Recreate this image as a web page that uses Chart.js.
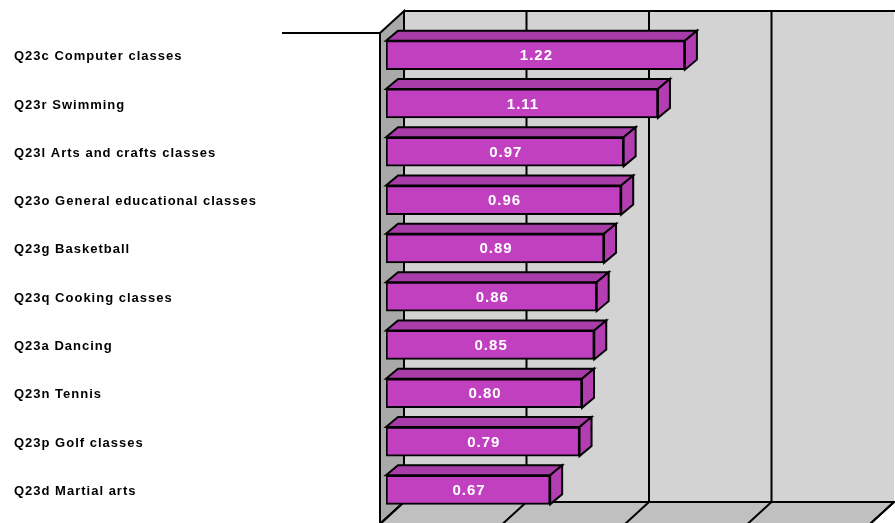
<!DOCTYPE html>
<html>
<head>
<meta charset="utf-8">
<script src="https://cdn.jsdelivr.net/npm/chart.js@4.4.1/dist/chart.umd.min.js"></script>
<style>
  html, body { margin: 0; padding: 0; background: #ffffff; }
  #wrap { width: 895px; height: 523px; position: relative; }
</style>
</head>
<body>
<div id="wrap"><canvas id="chart" width="895" height="523"></canvas></div>
<script>
// Activity categories and mean scores
const categories = [
  'Q23c Computer classes',
  'Q23r Swimming',
  'Q23l Arts and crafts classes',
  'Q23o General educational classes',
  'Q23g Basketball',
  'Q23q Cooking classes',
  'Q23a Dancing',
  'Q23n Tennis',
  'Q23p Golf classes',
  'Q23d Martial arts'
];
const scores = [1.22, 1.11, 0.97, 0.96, 0.89, 0.86, 0.85, 0.80, 0.79, 0.67];
const valueLabels = ['1.22', '1.11', '0.97', '0.96', '0.89', '0.86', '0.85', '0.80', '0.79', '0.67'];
const gridValues = [0, 0.5, 1, 1.5, 2];

// 3D box geometry (pixel offsets relative to the bar front-face plane)
const BAR_DEPTH = { dx: 12, dy: -10 };
const FRONT = { dx: -6, dy: 5 };
const BACK = { dx: 18, dy: -17 };
const WALL_PAD_TOP = 3, WALL_PAD_BOTTOM = 5;

function poly(ctx, pts, fill, stroke, lw) {
  ctx.beginPath();
  ctx.moveTo(pts[0][0], pts[0][1]);
  for (let i = 1; i < pts.length; i++) ctx.lineTo(pts[i][0], pts[i][1]);
  ctx.closePath();
  if (fill) { ctx.fillStyle = fill; ctx.fill(); }
  if (stroke) { ctx.strokeStyle = stroke; ctx.lineWidth = lw || 2; ctx.stroke(); }
}

const box3d = {
  id: 'box3d',
  beforeDatasetsDraw(chart) {
    const { ctx, chartArea, scales } = chart;
    const xs = scales.x;
    const x0 = xs.getPixelForValue(0), x2 = xs.getPixelForValue(2);
    const top = chartArea.top - WALL_PAD_TOP, bottom = chartArea.bottom + WALL_PAD_BOTTOM;
    const bT = top + BACK.dy, bB = bottom + BACK.dy;
    const fT = top + FRONT.dy, fB = bottom + FRONT.dy;
    ctx.save();
    ctx.lineJoin = 'miter';
    // back wall
    poly(ctx, [[x0 + BACK.dx, bT], [x2 + BACK.dx, bT], [x2 + BACK.dx, bB], [x0 + BACK.dx, bB]], '#d3d3d3');
    // side wall
    poly(ctx, [[x0 + FRONT.dx, fT], [x0 + BACK.dx, bT], [x0 + BACK.dx, bB], [x0 + FRONT.dx, fB]], '#a9a9a9', '#000', 2);
    // floor
    poly(ctx, [[x0 + BACK.dx, bB], [x2 + BACK.dx, bB], [x2 + FRONT.dx, fB], [x0 + FRONT.dx, fB]], '#c0c0c0', '#000', 2);
    ctx.strokeStyle = '#000';
    ctx.lineWidth = 2;
    ctx.beginPath();
    // top edge of back wall
    ctx.moveTo(x0 + BACK.dx, bT); ctx.lineTo(x2 + BACK.dx + 2, bT);
    // category axis line at the front top
    ctx.moveTo(282, fT); ctx.lineTo(x0 + FRONT.dx, fT);
    // vertical gridlines and their floor diagonals
    gridValues.forEach(v => {
      const px = xs.getPixelForValue(v);
      if (v > 0 && v < 2) { ctx.moveTo(px + BACK.dx, bT); ctx.lineTo(px + BACK.dx, bB); }
      ctx.moveTo(px + BACK.dx, bB); ctx.lineTo(px + FRONT.dx, fB);
    });
    ctx.stroke();

    // top and right faces of each bar
    const meta = chart.getDatasetMeta(0);
    meta.data.forEach(bar => {
      const p = bar.getProps(['x', 'y', 'base', 'height'], true);
      const l = p.base, r = p.x, t = p.y - p.height / 2, b = p.y + p.height / 2;
      const dx = BAR_DEPTH.dx, dy = BAR_DEPTH.dy;
      poly(ctx, [[l, t], [l + dx, t + dy], [r + dx, t + dy], [r, t]], '#a83ca8', '#000', 2);
      poly(ctx, [[r, t], [r + dx, t + dy], [r + dx, b + dy], [r, b]], '#b23eb2', '#000', 2);
    });
    ctx.restore();
  },
  afterDatasetsDraw(chart) {
    const { ctx, scales } = chart;
    const meta = chart.getDatasetMeta(0);
    ctx.save();
    ctx.textBaseline = 'middle';
    // value labels inside bars
    ctx.fillStyle = '#ffffff';
    ctx.font = 'bold 15px "Liberation Sans", Arial, sans-serif';
    ctx.letterSpacing = '1px';
    ctx.textAlign = 'center';
    meta.data.forEach((bar, i) => {
      const p = bar.getProps(['x', 'y', 'base'], true);
      ctx.fillText(valueLabels[i], (p.base + p.x) / 2 + 1, p.y + 1);
    });
    // category labels
    ctx.fillStyle = '#000000';
    ctx.textAlign = 'left';
    ctx.font = 'bold 13px "Liberation Sans", Arial, sans-serif';
    ctx.letterSpacing = '1px';
    chart.data.labels.forEach((lab, i) => {
      ctx.fillText(lab, 14, scales.y.getPixelForValue(i) + 1.5);
    });
    ctx.restore();
  }
};

new Chart(document.getElementById('chart'), {
  type: 'bar',
  data: {
    labels: categories,
    datasets: [{
      data: scores,
      backgroundColor: '#c040c0',
      borderColor: '#000000',
      borderWidth: 2,
      borderSkipped: false,
      barThickness: 29,
      categoryPercentage: 1,
      barPercentage: 1
    }]
  },
  plugins: [box3d],
  options: {
    indexAxis: 'y',
    responsive: false,
    animation: false,
    layout: { padding: { left: 386, right: 19, top: 31, bottom: 9 } },
    plugins: { legend: { display: false }, tooltip: { enabled: false } },
    scales: {
      x: { min: 0, max: 2, display: false },
      y: { display: false }
    }
  }
});
</script>
</body>
</html>
